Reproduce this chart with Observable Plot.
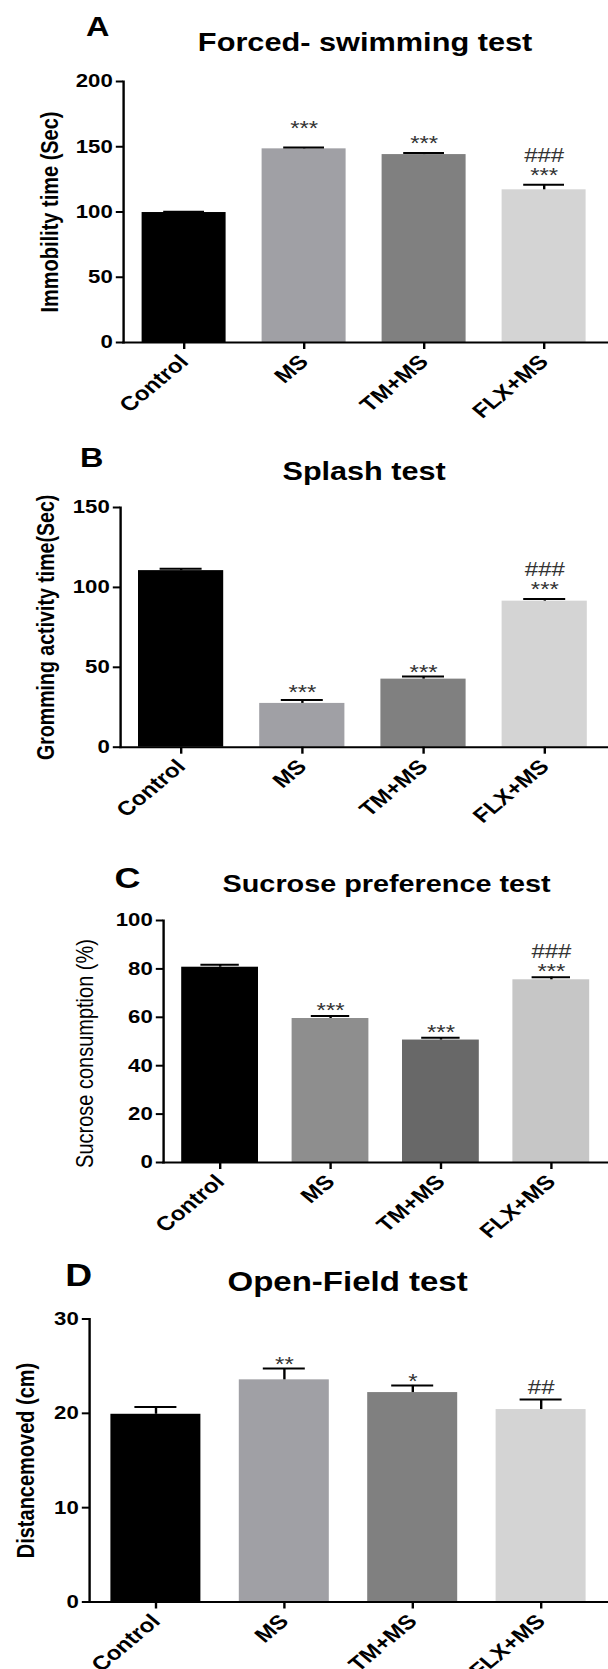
<!DOCTYPE html>
<html><head><meta charset="utf-8">
<script src="https://cdn.jsdelivr.net/npm/d3@7"></script>
<script src="https://cdn.jsdelivr.net/npm/@observablehq/plot@0.6"></script>
<style>
html,body{margin:0;padding:0;background:#fff;}
#chart{width:608px;}
#chart svg{display:block;}
</style></head><body><div id="chart"></div>
<script>
// ---------- data ----------
const groups = ["Control", "MS", "TM+MS", "FLX+MS"];

// A: Forced-swimming test
const fstMean = [99.6, 148.4, 144.0, 117.0];
const fstErr  = [100.2, 149.4, 145.3, 120.8];
const fstTicks = [0, 50, 100, 150, 200];
const fstNote  = ["", "***", "***", "###\n***"];
const fstNoteY = [null, 168.0, 156.5, 135.9];

// B: Splash test
const splMean = [110.5, 27.4, 42.6, 91.4];
const splErr  = [111.6, 29.5, 44.3, 92.7];
const splTicks = [0, 50, 100, 150];
const splNote  = ["", "***", "***", "###\n***"];
const splNoteY = [null, 37.0, 49.9, 104.7];

// C: Sucrose preference test
const sucMean = [80.7, 59.5, 50.6, 75.5];
const sucErr  = [81.7, 60.5, 51.5, 76.6];
const sucTicks = [0, 20, 40, 60, 80, 100];
const sucNote  = ["", "***", "***", "###\n***"];
const sucNoteY = [null, 64.8, 55.8, 82.9];

// D: Open-Field test
const ofMean = [19.9, 23.55, 22.2, 20.4];
const ofErr  = [20.66, 24.75, 22.96, 21.47];
const ofTicks = [0, 10, 20, 30];
const ofNote  = ["", "**", "*", "##"];
const ofNoteY = [null, 25.66, 23.86, 22.73];

// ---------- styles ----------
const paletteGP = ["#000000", "#a0a0a5", "#808080", "#d4d4d4"];
const paletteC  = ["#000000", "#8e8e8e", "#686868", "#c6c6c6"];
const FONT = "'Liberation Sans', Arial, Helvetica, sans-serif";
const S = 1.2;           // the original figure is stretched horizontally
const W = 608 / S;

function panel(c) {
  const rows = groups.map((g, i) => ({g, m: c.means[i], e: c.errs[i], n: c.note[i], ny: c.noteY[i]}));
  const starRows = rows.filter(d => d.n && d.n.startsWith("*"));
  const stackRows = rows.filter(d => d.n && d.n.startsWith("#") && d.n.includes("\n"));
  const hashRows = rows.filter(d => d.n && d.n.startsWith("#") && !d.n.includes("\n"));
  const ml = c.ml;
  const svg = Plot.plot({
    width: W, height: c.height,
    marginTop: c.mt, marginBottom: c.mb, marginLeft: ml, marginRight: 0,
    style: {fontFamily: FONT, background: "white", overflow: "visible", color: "black"},
    x: {domain: groups, range: [ml, c.xEnd], paddingInner: 0.3, paddingOuter: 0.15},
    y: {domain: [0, c.yMax]},
    color: {domain: groups, range: c.palette},
    marks: [
      Plot.barY(rows, {x: "g", y: "m", fill: "g"}),
      Plot.ruleX(rows, {x: "g", y1: "m", y2: "e", stroke: "black", strokeWidth: 2}),
      Plot.tickY(rows, {x: "g", y: "e", stroke: "black", strokeWidth: 2, insetLeft: c.capInset, insetRight: c.capInset}),
      Plot.text(starRows, {x: "g", y: "ny", text: "n", fontSize: 20, fill: "#333", dy: 5}),
      Plot.text(hashRows, {x: "g", y: "ny", text: "n", fontSize: 20, fill: "#333"}),
      Plot.text(stackRows, {x: "g", y: "ny", text: "n", fontSize: 20, lineHeight: 1, fill: "#333"}),
      Plot.frame({anchor: "left", strokeWidth: 2, stroke: "black"}),
      Plot.frame({anchor: "bottom", strokeWidth: 2, stroke: "black"}),
      Plot.axisY({ticks: c.ticks, tickSize: 6, tickPadding: 3, fontSize: 18.5, fontWeight: "bold", label: null, strokeWidth: 2}),
      Plot.axisX({tickRotate: -45, tickSize: 7, tickPadding: 9, fontSize: 20, fontWeight: "bold", label: null, strokeWidth: 2}),
      Plot.text([c.ylabel], {frameAnchor: "left", textAnchor: "middle", lineAnchor: "middle", dx: c.ylabelX - ml, dy: c.ylabelDy, rotate: -90, fontSize: c.ylabelSize, fontWeight: c.ylabelWeight}),
      Plot.text([c.title], {frameAnchor: "top-left", textAnchor: "middle", lineAnchor: "middle", dx: c.titleX - ml, dy: c.titleY - c.mt, fontSize: c.titleSize, fontWeight: "bold"}),
      Plot.text([c.letter], {frameAnchor: "top-left", textAnchor: "middle", lineAnchor: "middle", dx: c.letterX - ml, dy: c.letterY - c.mt, fontSize: c.letterSize, fontWeight: "bold"})
    ]
  });
  svg.setAttribute("width", 608);
  svg.setAttribute("height", c.height);
  svg.setAttribute("preserveAspectRatio", "none");
  svg.style.width = "608px";
  svg.style.height = c.height + "px";
  svg.style.maxWidth = "none";
  document.getElementById("chart").appendChild(svg);
}

panel({
  height: 430, mt: 81, mb: 88, ml: 123 / S, xEnd: 605 / S, yMax: 200, ticks: fstTicks,
  means: fstMean, errs: fstErr, note: fstNote, noteY: fstNoteY,
  palette: paletteGP, capInset: 18,
  ylabel: "Immobility time (Sec)", ylabelX: 50 / S, ylabelDy: 0, ylabelSize: 20, ylabelWeight: "bold",
  title: "Forced- swimming test", titleX: 364.5 / S, titleY: 42.5, titleSize: 25.6,
  letter: "A", letterX: 97 / S, letterY: 27, letterSize: 27
});
panel({
  height: 400, mt: 77, mb: 83.3, ml: 120 / S, xEnd: 605 / S, yMax: 150, ticks: splTicks,
  means: splMean, errs: splErr, note: splNote, noteY: splNoteY,
  palette: paletteGP, capInset: 18,
  ylabel: "Gromming activity time(Sec)", ylabelX: 46 / S, ylabelDy: 0, ylabelSize: 19.6, ylabelWeight: "bold",
  title: "Splash test", titleX: 363.5 / S, titleY: 41.5, titleSize: 25.5,
  letter: "B", letterX: 91 / S, letterY: 27.5, letterSize: 27
});
panel({
  height: 410, mt: 90, mb: 78, ml: 163 / S, xEnd: 607.5 / S, yMax: 100, ticks: sucTicks,
  means: sucMean, errs: sucErr, note: sucNote, noteY: sucNoteY,
  palette: paletteC, capInset: 16,
  ylabel: "Sucrose consumption (%)", ylabelX: 85 / S, ylabelDy: 12, ylabelSize: 20, ylabelWeight: "normal",
  title: "Sucrose preference test", titleX: 386 / S, titleY: 54.3, titleSize: 24,
  letter: "C", letterX: 127 / S, letterY: 48, letterSize: 30
});
panel({
  height: 429, mt: 78.5, mb: 67.5, ml: 89 / S, xEnd: 607 / S, yMax: 30, ticks: ofTicks,
  means: ofMean, errs: ofErr, note: ofNote, noteY: ofNoteY,
  palette: paletteGP, capInset: 20,
  ylabel: "Distancemoved (cm)", ylabelX: 26 / S, ylabelDy: 0, ylabelSize: 20, ylabelWeight: "bold",
  title: "Open-Field test", titleX: 347 / S, titleY: 41.7, titleSize: 27.5,
  letter: "D", letterX: 78 / S, letterY: 35.8, letterSize: 31
});
</script>
</body></html>
